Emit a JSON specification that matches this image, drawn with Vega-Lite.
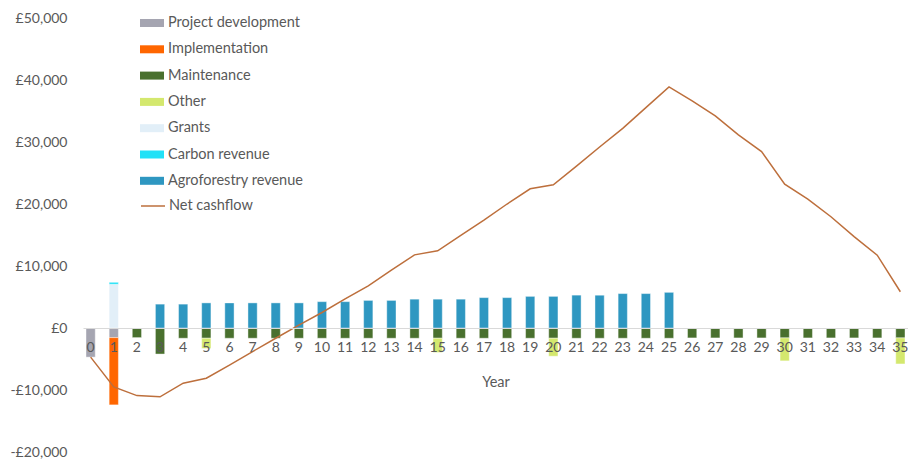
{
  "$schema": "https://vega.github.io/schema/vega-lite/v6.json",
  "width": 825,
  "height": 434,
  "autosize": "none",
  "padding": {"left": 83, "top": 18, "right": 0, "bottom": 11},
  "background": "white",
  "config": {"view": {"stroke": null}, "font": "Lato"},
  "datasets": {
    "bars": [
      {"year": 0, "type": "Project development", "value": -4700},
      {"year": 1, "type": "Project development", "value": -1550},
      {"year": 1, "type": "Implementation", "value": -10850},
      {"year": 1, "type": "Grants", "value": 7050},
      {"year": 1, "type": "Carbon revenue", "value": 320},
      {"year": 2, "type": "Maintenance", "value": -1550},
      {"year": 3, "type": "Maintenance", "value": -4200},
      {"year": 3, "type": "Agroforestry revenue", "value": 3850},
      {"year": 4, "type": "Maintenance", "value": -1650},
      {"year": 4, "type": "Agroforestry revenue", "value": 3850},
      {"year": 5, "type": "Maintenance", "value": -1650},
      {"year": 5, "type": "Other", "value": -1650},
      {"year": 5, "type": "Agroforestry revenue", "value": 4050},
      {"year": 6, "type": "Maintenance", "value": -1650},
      {"year": 6, "type": "Agroforestry revenue", "value": 4050},
      {"year": 7, "type": "Maintenance", "value": -1650},
      {"year": 7, "type": "Agroforestry revenue", "value": 4050},
      {"year": 8, "type": "Maintenance", "value": -1650},
      {"year": 8, "type": "Agroforestry revenue", "value": 4050},
      {"year": 9, "type": "Maintenance", "value": -1650},
      {"year": 9, "type": "Agroforestry revenue", "value": 4050},
      {"year": 10, "type": "Maintenance", "value": -1650},
      {"year": 10, "type": "Agroforestry revenue", "value": 4250},
      {"year": 11, "type": "Maintenance", "value": -1650},
      {"year": 11, "type": "Agroforestry revenue", "value": 4250},
      {"year": 12, "type": "Maintenance", "value": -1650},
      {"year": 12, "type": "Agroforestry revenue", "value": 4450},
      {"year": 13, "type": "Maintenance", "value": -1650},
      {"year": 13, "type": "Agroforestry revenue", "value": 4450},
      {"year": 14, "type": "Maintenance", "value": -1650},
      {"year": 14, "type": "Agroforestry revenue", "value": 4650},
      {"year": 15, "type": "Maintenance", "value": -1650},
      {"year": 15, "type": "Other", "value": -2300},
      {"year": 15, "type": "Agroforestry revenue", "value": 4650},
      {"year": 16, "type": "Maintenance", "value": -1650},
      {"year": 16, "type": "Agroforestry revenue", "value": 4650},
      {"year": 17, "type": "Maintenance", "value": -1650},
      {"year": 17, "type": "Agroforestry revenue", "value": 4900},
      {"year": 18, "type": "Maintenance", "value": -1650},
      {"year": 18, "type": "Agroforestry revenue", "value": 4900},
      {"year": 19, "type": "Maintenance", "value": -1650},
      {"year": 19, "type": "Agroforestry revenue", "value": 5100},
      {"year": 20, "type": "Maintenance", "value": -1650},
      {"year": 20, "type": "Other", "value": -2900},
      {"year": 20, "type": "Agroforestry revenue", "value": 5100},
      {"year": 21, "type": "Maintenance", "value": -1650},
      {"year": 21, "type": "Agroforestry revenue", "value": 5300},
      {"year": 22, "type": "Maintenance", "value": -1650},
      {"year": 22, "type": "Agroforestry revenue", "value": 5300},
      {"year": 23, "type": "Maintenance", "value": -1650},
      {"year": 23, "type": "Agroforestry revenue", "value": 5550},
      {"year": 24, "type": "Maintenance", "value": -1650},
      {"year": 24, "type": "Agroforestry revenue", "value": 5550},
      {"year": 25, "type": "Maintenance", "value": -1650},
      {"year": 25, "type": "Agroforestry revenue", "value": 5750},
      {"year": 26, "type": "Maintenance", "value": -1600},
      {"year": 27, "type": "Maintenance", "value": -1600},
      {"year": 28, "type": "Maintenance", "value": -1600},
      {"year": 29, "type": "Maintenance", "value": -1600},
      {"year": 30, "type": "Maintenance", "value": -1600},
      {"year": 30, "type": "Other", "value": -3700},
      {"year": 31, "type": "Maintenance", "value": -1600},
      {"year": 32, "type": "Maintenance", "value": -1600},
      {"year": 33, "type": "Maintenance", "value": -1600},
      {"year": 34, "type": "Maintenance", "value": -1600},
      {"year": 35, "type": "Maintenance", "value": -1600},
      {"year": 35, "type": "Other", "value": -4200}
    ],
    "net": [
      {"year": 0, "value": -4700},
      {"year": 1, "value": -9500},
      {"year": 2, "value": -10900},
      {"year": 3, "value": -11100},
      {"year": 4, "value": -8900},
      {"year": 5, "value": -8100},
      {"year": 6, "value": -6000},
      {"year": 7, "value": -3800},
      {"year": 8, "value": -1650},
      {"year": 9, "value": 450},
      {"year": 10, "value": 2500},
      {"year": 11, "value": 4700},
      {"year": 12, "value": 6800},
      {"year": 13, "value": 9350},
      {"year": 14, "value": 11800},
      {"year": 15, "value": 12450},
      {"year": 16, "value": 14950},
      {"year": 17, "value": 17400},
      {"year": 18, "value": 20000},
      {"year": 19, "value": 22450},
      {"year": 20, "value": 23100},
      {"year": 21, "value": 26100},
      {"year": 22, "value": 29200},
      {"year": 23, "value": 32200},
      {"year": 24, "value": 35550},
      {"year": 25, "value": 38900},
      {"year": 26, "value": 36650},
      {"year": 27, "value": 34200},
      {"year": 28, "value": 31150},
      {"year": 29, "value": 28450},
      {"year": 30, "value": 23200},
      {"year": 31, "value": 20800},
      {"year": 32, "value": 17950},
      {"year": 33, "value": 14750},
      {"year": 34, "value": 11750},
      {"year": 35, "value": 5850}
    ]
  },
  "encoding": {
    "x": {
      "field": "year",
      "type": "ordinal",
      "scale": {"paddingInner": 0.6, "paddingOuter": 0.13},
      "axis": {
        "title": "Year",
        "offset": -124,
        "ticks": false,
        "zindex": 1,
        "domainColor": "#D9D9D9",
        "domainWidth": 1,
        "labelAngle": 0,
        "labelColor": "#595959",
        "labelFontSize": 14,
        "labelPadding": 12,
        "titleColor": "#595959",
        "titleFontSize": 14.5,
        "titleFontWeight": "normal",
        "titlePadding": 21,
        "grid": false
      }
    },
    "y": {
      "field": "value",
      "type": "quantitative",
      "scale": {"domain": [-20000, 50000], "nice": false},
      "axis": {
        "title": null,
        "values": [-20000, -10000, 0, 10000, 20000, 30000, 40000, 50000],
        "grid": false,
        "ticks": false,
        "domain": false,
        "labelExpr": "(datum.value < 0 ? '-£' : '£') + format(abs(datum.value), ',')",
        "labelColor": "#595959",
        "labelFontSize": 14,
        "labelPadding": 16
      }
    }
  },
  "layer": [
    {
      "data": {"name": "bars"},
      "transform": [
        {"calculate": "indexof(['Project development','Implementation','Maintenance','Other','Grants','Carbon revenue','Agroforestry revenue'], datum.type)", "as": "ord"}
      ],
      "mark": {"type": "bar", "stroke": "white", "strokeWidth": 0.6, "strokeOpacity": 0.7},
      "encoding": {
        "y": {"field": "value", "type": "quantitative", "stack": "zero"},
        "color": {
          "field": "type",
          "type": "nominal",
          "scale": {
            "domain": ["Project development", "Implementation", "Maintenance", "Other", "Grants", "Carbon revenue", "Agroforestry revenue"],
            "range": ["#A5A5B1", "#FF6600", "#49702E", "#D4E86E", "#E2EFF8", "#21E1F7", "#2E97C1"]
          },
          "legend": {
            "orient": "none",
            "legendX": 61,
            "legendY": -3,
            "title": null,
            "symbolType": "M-1.5,-0.5H1.5V0.5H-1.5Z",
            "symbolSize": 256,
            "symbolStrokeWidth": 0,
            "labelFontSize": 14.5,
            "labelColor": "#595959",
            "labelOffset": 8,
            "rowPadding": 11.3,
            "labelLimit": 300
          }
        },
        "order": {"field": "ord", "type": "quantitative"}
      }
    },
    {
      "data": {"name": "net"},
      "mark": {"type": "line", "strokeWidth": 1.5},
      "encoding": {
        "stroke": {
          "datum": "Net cashflow",
          "type": "nominal",
          "scale": {"range": ["#BD6F3C"]},
          "legend": {
            "orient": "none",
            "legendX": 57,
            "legendY": 175,
            "title": null,
            "symbolType": "stroke",
            "symbolSize": 576,
            "symbolStrokeWidth": 1.5,
            "labelFontSize": 14.5,
            "labelColor": "#595959",
            "labelOffset": 3,
            "labelLimit": 300
          }
        }
      }
    }
  ]
}
